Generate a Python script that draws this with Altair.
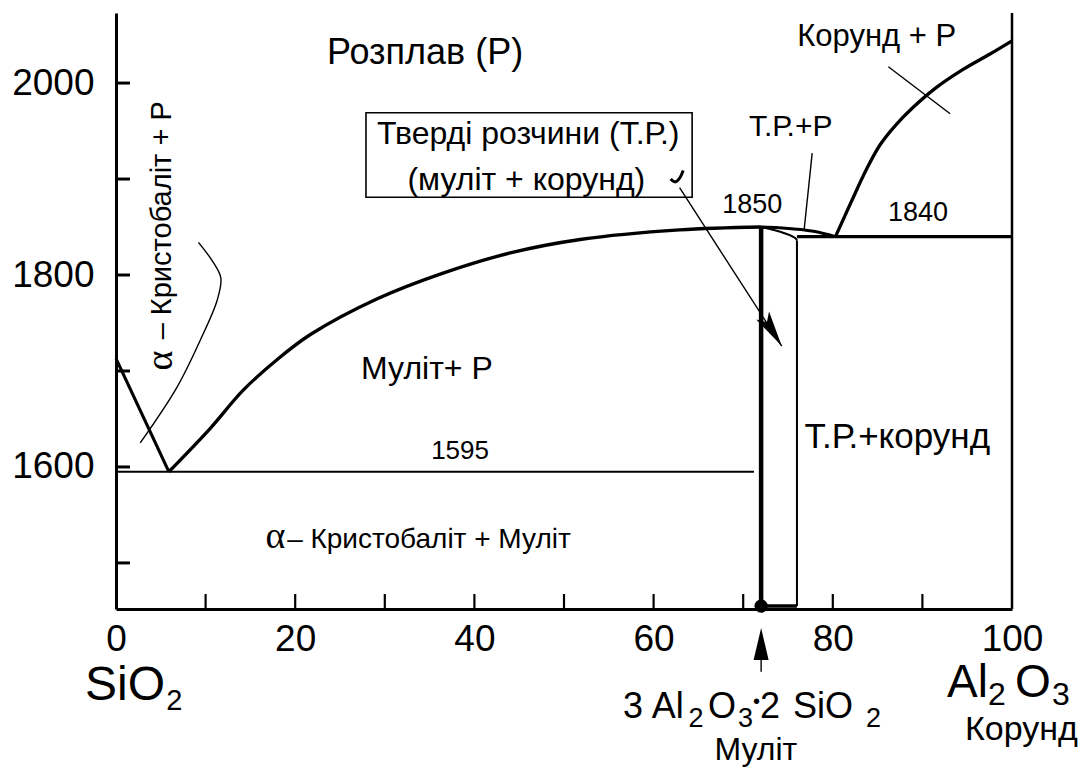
import altair as alt
import pandas as pd

FONT = "Liberation Sans"
SERIF = "Liberation Serif"

# Axes: composition (mass % Al2O3) and temperature (deg C)
X_DOMAIN = [0, 100]
T_DOMAIN = [1452, 2073]
x_label_values = [0, 20, 40, 60, 80, 100]
t_label_values = [1600, 1800, 2000]
x_tick_values = [10, 20, 30, 40, 50, 60, 70, 80, 90]
t_tick_values = [1500, 1600, 1700, 1800, 1900, 2000]

# Phase boundaries (smooth curves)
mullite_liq_x = [5.9, 10.5, 14.2, 18.0, 21.7, 29.1, 36.5, 44.0, 51.8, 62.9, 72.0]
mullite_liq_t = [1595, 1640, 1680, 1712, 1738, 1775, 1802, 1823, 1837, 1847, 1850]
ss_liq_x = [72, 74, 76, 78, 80.3]
ss_liq_t = [1850, 1849.3, 1847.8, 1845.3, 1840]
corundum_liq_x = [80.3, 82.0, 83.8, 85.3, 87.0, 89.0, 91.5, 94.5, 97.5, 100]
corundum_liq_t = [1840, 1875, 1911, 1936, 1956, 1975, 1995, 2014, 2030, 2044]
ss_solidus_x = [72, 73.2, 74.3, 75.2, 75.8, 76.0]
ss_solidus_t = [1850, 1847.5, 1844.5, 1841.5, 1838.5, 1836]
crist_leader_x = [2.7, 6.8, 9.4, 11.3, 11.7, 10.8, 9.2]
crist_leader_t = [1625, 1683, 1732, 1774, 1797, 1814, 1834]
hook_x = [61.9, 62.4, 62.9, 63.3]
hook_t = [1900, 1897, 1901, 1909]

# Straight boundaries and leader lines
crist_liq_x = [0, 5.9]
crist_liq_t = [1713, 1595]
eutectic_x = [0, 71.2]
eutectic_t = [1595, 1595]
eutectic2_x = [76, 100]
eutectic2_t = [1840, 1840]
mullite_x = [72, 72]
mullite_t = [1850, 1455]
ss_limit_x = [76, 76]
ss_limit_t = [1836, 1455]
ss_base_x = [72, 76]
ss_base_t = [1455, 1455]
right_edge_x = [100, 100]
right_edge_t = [1452, 2073]
corundum_leader_x = [86.2, 93.1]
corundum_leader_t = [2017, 1968]
ssp_leader_x = [77.7, 76.8]
ssp_leader_t = [1927, 1847]
arrow_x = [62.9, 74.3]
arrow_t = [1891, 1726]
up_arrow_x = [72, 72]
up_arrow_t = [1420, 1386.5]

# Solid-solution box
box_x = [27.9, 64.3]
box_t = [1881, 1969]

xs = alt.Scale(domain=X_DOMAIN, nice=False, zero=False)
ys = alt.Scale(domain=T_DOMAIN, nice=False, zero=False)

axis_common = dict(
    title=None, grid=False, ticks=False, tickSize=0,
    labelFont=FONT, labelFontSize=37, labelColor="black",
    domainColor="black", domainWidth=3, format="d",
)
x_axis = alt.Axis(values=x_label_values, labelPadding=12, labelFlush=False, **axis_common)
y_axis = alt.Axis(values=t_label_values, labelPadding=22, **axis_common)


def X(field="x"):
    return alt.X(f"{field}:Q", scale=xs, axis=x_axis)


def Y(field="t"):
    return alt.Y(f"{field}:Q", scale=ys, axis=y_axis)


def frame(parts):
    rows = []
    for name, xv, tv, w in parts:
        for i, (a, b) in enumerate(zip(xv, tv)):
            rows.append({"seg": name, "i": i, "x": a, "t": b, "w": w})
    return pd.DataFrame(rows)


curves = frame([
    ("mullite_liq", mullite_liq_x, mullite_liq_t, 3.3),
    ("ss_liq", ss_liq_x, ss_liq_t, 3.0),
    ("corundum_liq", corundum_liq_x, corundum_liq_t, 3.3),
    ("ss_solidus", ss_solidus_x, ss_solidus_t, 2.0),
    ("crist_leader", crist_leader_x, crist_leader_t, 1.4),
    ("hook", hook_x, hook_t, 3.0),
])

straights = frame([
    ("crist_liq", crist_liq_x, crist_liq_t, 3.0),
    ("eutectic", eutectic_x, eutectic_t, 2.2),
    ("eutectic2", eutectic2_x, eutectic2_t, 3.2),
    ("mullite", mullite_x, mullite_t, 4.5),
    ("ss_limit", ss_limit_x, ss_limit_t, 2.0),
    ("ss_base", ss_base_x, ss_base_t, 3.5),
    ("right_edge", right_edge_x, right_edge_t, 2.5),
    ("corundum_leader", corundum_leader_x, corundum_leader_t, 1.4),
    ("ssp_leader", ssp_leader_x, ssp_leader_t, 1.4),
    ("arrow", arrow_x, arrow_t, 1.4),
    ("up_arrow", up_arrow_x, up_arrow_t, 1.4),
])

# Inward ticks on both axes
y_ticks = alt.Chart(pd.DataFrame({"t": t_tick_values, "x": 0, "x2": 1.56})).mark_rule(
    color="black", strokeWidth=3
).encode(x=X(), x2="x2:Q", y=Y())
x_ticks = alt.Chart(pd.DataFrame({"x": x_tick_values, "t": T_DOMAIN[0], "t2": T_DOMAIN[0] + 15.6})).mark_rule(
    color="black", strokeWidth=2.2
).encode(x=X(), y=Y(), y2="t2:Q")

box = alt.Chart(pd.DataFrame({"x": [box_x[0]], "x2": [box_x[1]], "t": [box_t[0]], "t2": [box_t[1]]})).mark_rect(
    fill="white", stroke="black", strokeWidth=1.6
).encode(x=X(), x2="x2:Q", y=Y(), y2="t2:Q")

curve_layer = alt.Chart(curves).mark_line(color="black", interpolate="catmull-rom").encode(
    x=X(), y=Y(), detail="seg:N", order="i:Q",
    strokeWidth=alt.StrokeWidth("w:Q", scale=None),
)
straight_layer = alt.Chart(straights).mark_line(color="black").encode(
    x=X(), y=Y(), detail="seg:N", order="i:Q",
    strokeWidth=alt.StrokeWidth("w:Q", scale=None),
)

# Arrowheads (tip at the symbol origin)
barbed = alt.Chart(pd.DataFrame({"x": [arrow_x[1]], "t": [arrow_t[1]]})).mark_point(
    shape="M0,0L0.42,2L0,1.55L-0.42,2Z", filled=True, color="black", opacity=1,
    strokeWidth=0, size=1300, angle=148,
).encode(x=X(), y=Y())
up_head = alt.Chart(pd.DataFrame({"x": [72], "t": [1432.3]})).mark_point(
    shape="M0,0L0.47,2L-0.47,2Z", filled=True, color="black", opacity=1,
    strokeWidth=0, size=1024,
).encode(x=X(), y=Y())
mullite_dot = alt.Chart(pd.DataFrame({"x": [72], "t": [1455]})).mark_circle(
    color="black", opacity=1, size=180
).encode(x=X(), y=Y())

# Region and value labels (centred)
label_text = ["Розплав (Р)", "Тверді розчини (Т.Р.)", "(муліт + корунд)", "Корунд + Р",
              "Т.Р.+Р", "1850", "1840", "1595", "Муліт+ Р", "Т.Р.+корунд"]
label_x = [34.5, 46.0, 45.8, 84.9, 75.3, 71.0, 89.5, 38.4, 34.7, 87.2]
label_t = [2031, 1947, 1899, 2048, 1954, 1873, 1865, 1617, 1702, 1631]
label_size = [36, 32, 32, 31, 30, 27, 27, 26, 32, 35]
labels = alt.Chart(pd.DataFrame({"label": label_text, "x": label_x, "t": label_t, "s": label_size})).mark_text(
    font=FONT, color="black", align="center", baseline="middle"
).encode(x=X(), y=Y(), text="label:N", size=alt.Size("s:Q", scale=None))

# Horizontal cristobalite + mullite label
crist_mull = alt.Chart(pd.DataFrame({"label": ["– Кристобаліт + Муліт"], "x": [19.1], "t": [1524]})).mark_text(
    font=FONT, color="black", align="left", baseline="middle", fontSize=28
).encode(x=X(), y=Y(), text="label:N")
alpha_h = alt.Chart(pd.DataFrame({"label": ["α"], "x": [17.8], "t": [1527]})).mark_text(
    font=SERIF, color="black", align="center", baseline="middle", fontSize=38
).encode(x=X(), y=Y(), text="label:N")

# Vertical cristobalite + melt label
crist_melt = alt.Chart(pd.DataFrame({"label": ["– Кристобаліт + Р"], "x": [5.1], "t": [1857]})).mark_text(
    font=FONT, color="black", align="center", baseline="middle", fontSize=29, angle=270
).encode(x=X(), y=Y(), text="label:N")
alpha_v = alt.Chart(pd.DataFrame({"label": ["α"], "x": [5.0], "t": [1711]})).mark_text(
    font=SERIF, color="black", align="center", baseline="middle", fontSize=38, angle=270
).encode(x=X(), y=Y(), text="label:N")

# Component formulas below the axis (left-aligned pieces on a baseline)
formula_text = ["SiO", "2",
                "3", "Al", "2", "O", "3", "•", "2", "SiO", "2",
                "Муліт",
                "Al", "2", "O", "3",
                "Корунд"]
formula_x = [-3.46, 5.6,
             56.58, 59.8, 63.9, 66.07, 69.42, 71.09, 71.88, 75.56, 83.71,
             66.8,
             92.75, 97.32, 100.33, 104.46,
             94.75]
formula_t = [1357.2, 1346.7,
             1338.5, 1338.5, 1329.2, 1338.5, 1329.2, 1349.0, 1338.5, 1338.5, 1329.2,
             1294.6,
             1360.4, 1352.1, 1360.4, 1352.1,
             1315.6]
formula_size = [48, 29,
                36, 36, 27, 36, 27, 20, 36, 36, 27,
                32,
                46, 32, 46, 32,
                34]
formulas = alt.Chart(pd.DataFrame({"label": formula_text, "x": formula_x, "t": formula_t, "s": formula_size})).mark_text(
    font=FONT, color="black", align="left", baseline="alphabetic"
).encode(x=X(), y=Y(), text="label:N", size=alt.Size("s:Q", scale=None))

chart = alt.layer(
    y_ticks, x_ticks, box, straight_layer, curve_layer, barbed, up_head, mullite_dot,
    labels, crist_mull, alpha_h, crist_melt, alpha_v, formulas,
).properties(
    width=896, height=596,
    padding={"left": 116, "top": 13, "right": 69, "bottom": 160},
    autosize=alt.AutoSizeParams(type="none"),
    background="white",
).configure_view(stroke=None)

chart.save("out.html", embed_options={"renderer": "svg", "actions": False})
